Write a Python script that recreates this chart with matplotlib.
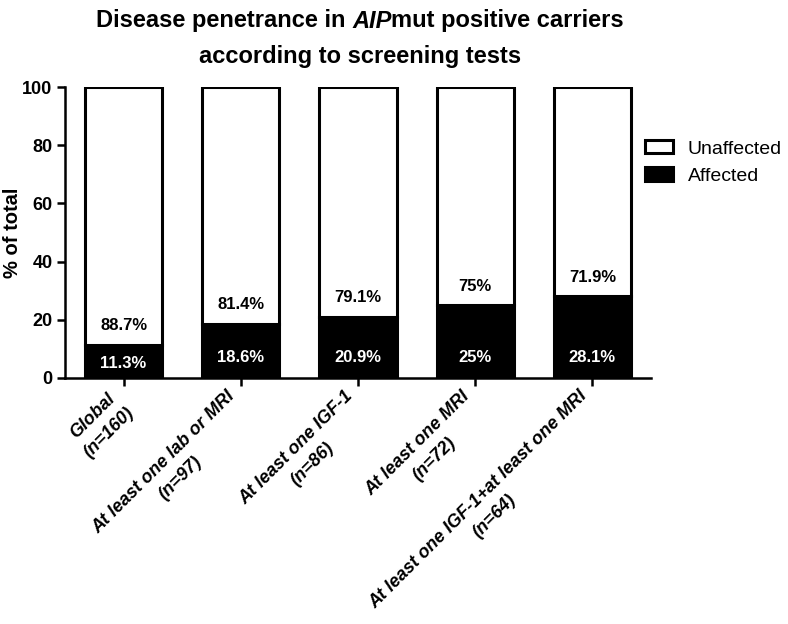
import matplotlib
matplotlib.use('Agg')
import matplotlib.pyplot as plt
import matplotlib.transforms as mtransforms
import numpy as np

plt.rcParams['font.family'] = ['Liberation Sans', 'DejaVu Sans']

# data
groups = ['Global\n(n=160)', 'At least one lab or MRI\n(n=97)', 'At least one IGF-1\n(n=86)',
          'At least one MRI\n(n=72)', 'At least one IGF-1+at least one MRI\n(n=64)']
affected = [11.3, 18.6, 20.9, 25, 28.1]
unaffected = [88.7, 81.4, 79.1, 75, 71.9]
aff_labels = ['11.3%', '18.6%', '20.9%', '25%', '28.1%']
unaff_labels = ['88.7%', '81.4%', '79.1%', '75%', '71.9%']

fig = plt.figure(figsize=(7.88, 6.24), dpi=100)
ax = fig.add_axes([65/788, 1 - 378/624, 586/788, 291/624])

x = np.arange(len(groups))
w = 0.66
ax.bar(x, affected, w, color='black', edgecolor='black', linewidth=2.2, label='Affected', zorder=2)
ax.bar(x, unaffected, w, bottom=affected, color='white', edgecolor='black', linewidth=2.2,
       label='Unaffected', zorder=2)

for i in range(len(groups)):
    ax.text(x[i], min(affected[i] / 2 - 0.8, 7.1), aff_labels[i], color='white', ha='center', va='center',
            fontsize=12, fontweight='bold', zorder=3)
    ax.text(x[i], affected[i] + 6.6, unaff_labels[i], color='black', ha='center', va='center',
            fontsize=12, fontweight='bold', zorder=3)

ax.set_xlim(-0.5, 4.5)
ax.set_ylim(0, 100)
ax.set_yticks([0, 20, 40, 60, 80, 100])
ax.set_xticks(x)
ax.set_xticklabels(groups, rotation=45, ha='right', va='center', rotation_mode='anchor',
                   fontsize=13, fontweight='bold', fontstyle='italic', multialignment='center',
                   linespacing=1.45)
offset = mtransforms.ScaledTranslation(4/100, 0, fig.dpi_scale_trans)
for lab in ax.get_xticklabels():
    lab.set_transform(lab.get_transform() + offset)
for lab in ax.get_yticklabels():
    lab.set_fontweight('bold')
    lab.set_fontsize(13)
ax.spines['top'].set_visible(False)
ax.spines['right'].set_visible(False)
ax.spines['left'].set_linewidth(1.8)
ax.spines['bottom'].set_linewidth(1.8)
ax.tick_params(axis='both', width=1.8, length=6, direction='out')
ax.tick_params(axis='x', pad=11)
ax.tick_params(axis='y', pad=3)
ax.set_ylabel('% of total', fontsize=14.5, fontweight='bold')
ax.yaxis.set_label_coords(-43/586, 0.5)

# legend, unaffected first
h, l = ax.get_legend_handles_labels()
fig.legend([h[1], h[0]], [l[1], l[0]], loc='center left', bbox_to_anchor=(645/788, 1 - 162.5/624),
           frameon=False, fontsize=14, handlelength=1.45, handleheight=0.67, handletextpad=0.75,
           labelspacing=0.5, borderpad=0, borderaxespad=0)

# title with italic gene name
renderer = fig.canvas.get_renderer()
parts = [('Disease penetrance in ', 'normal'), ('AIP', 'italic'), ('mut positive carriers', 'normal')]
texts = []
for s, st in parts:
    texts.append(fig.text(0, 1 - 21/624, s, fontsize=17, fontweight='bold', fontstyle=st,
                          ha='left', va='center'))
widths = [t.get_window_extent(renderer).width for t in texts]
xpos = 360 - sum(widths) / 2
for t, wd in zip(texts, widths):
    t.set_x(xpos / 788)
    xpos += wd
fig.text(360/788, 1 - 56/624, 'according to screening tests', fontsize=17, fontweight='bold',
         ha='center', va='center')

fig.savefig('out.png', dpi=100)
